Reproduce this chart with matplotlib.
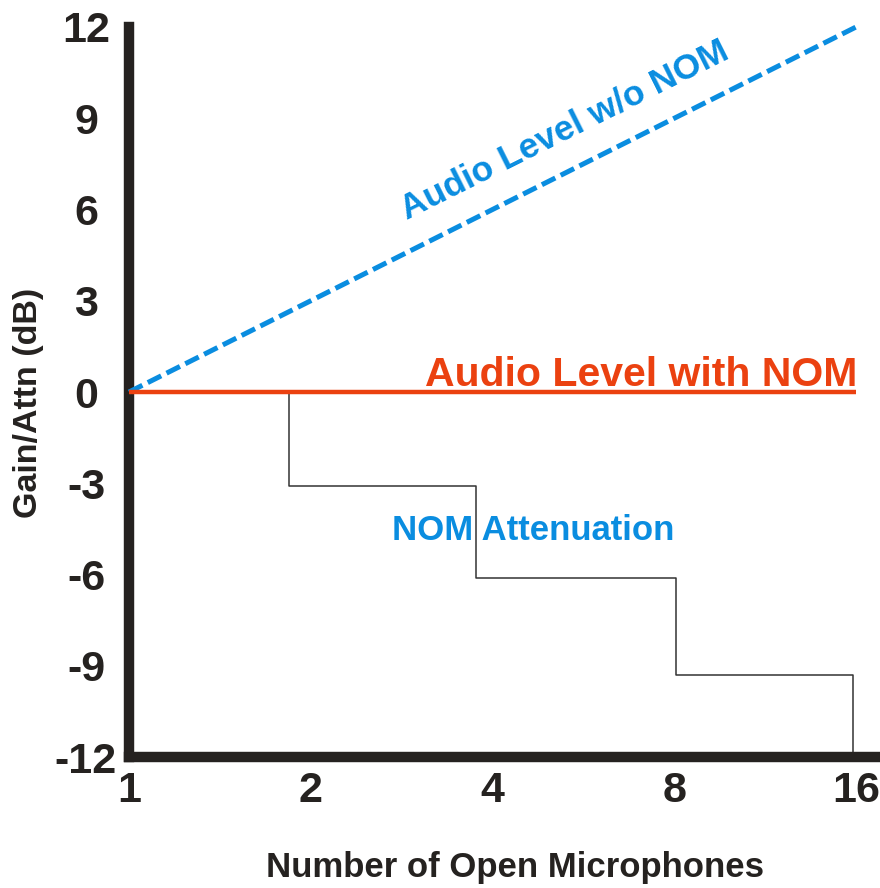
import matplotlib
matplotlib.use("Agg")
import matplotlib.pyplot as plt
from matplotlib.ticker import FixedLocator, FixedFormatter

plt.rcParams['font.family'] = ['Liberation Sans', 'DejaVu Sans']

# ---- data ----
mics = [1, 2, 4, 8, 16]
level_without_nom = [0, 3, 6, 9, 12]
level_with_nom = [0, 0, 0, 0, 0]
step_edges = [1.84, 3.75, 8.05, 15.8]
step_levels = [0, -3.1, -6.1, -9.3, -12]
x_ticks = [1, 2, 4, 8, 16]
x_ticklabels = ["1", "2", "4", "8", "16"]
y_ticks = [12, 9, 6, 3, 0, -3, -6, -9, -12]
y_ticklabels = ["12", "9", "6", "3", "0", "-3", "-6", "-9", "-12"]

BLUE = '#0a8de0'
ORANGE = '#eb4110'
DARK = '#252220'

fig = plt.figure(figsize=(8.8, 8.88), dpi=100)
ax = fig.add_axes([0.1466, 0.1475, 1.0 - 0.1466, 0.9696 - 0.1475])
ax.set_xscale('log', base=2)
ax.set_xlim(1, 17.53)
ax.set_ylim(-12, 12)

# step attenuation line
sx, sy = [], []
for i, e in enumerate(step_edges):
    sx += [e, e]
    sy += [step_levels[i], step_levels[i + 1]]
    if i + 1 < len(step_edges):
        sx.append(step_edges[i + 1])
        sy.append(step_levels[i + 1])
ax.plot(sx, sy, color='#333333', lw=1.1, zorder=2)

ax.plot(mics, level_with_nom, color=ORANGE, lw=3.2, solid_capstyle='butt',
        zorder=5, clip_on=False)
ax.plot(mics, level_without_nom, color=BLUE, lw=3.6,
        linestyle=(0, (3.0, 1.2)), zorder=4, clip_on=False)

ax.text(5.27, 8.6, "Audio Level w/o NOM", color=BLUE, fontsize=25.5,
        fontweight='bold', rotation=26.6, rotation_mode='anchor',
        ha='center', va='center')
ax.text(16.1, 0.2, "Audio Level with NOM", color=ORANGE, fontsize=29.5,
        fontweight='bold', ha='right', va='baseline')
ax.text(4.67, -4.54, "NOM Attenuation", color=BLUE, fontsize=25,
        fontweight='bold', ha='center', va='center')

for s in ['top', 'right']:
    ax.spines[s].set_visible(False)
for s in ['left', 'bottom']:
    ax.spines[s].set_linewidth(7.5)
    ax.spines[s].set_color(DARK)
    ax.spines[s].set_capstyle('projecting')

ax.xaxis.set_major_locator(FixedLocator(x_ticks))
ax.xaxis.set_major_formatter(FixedFormatter(x_ticklabels))
ax.xaxis.set_minor_locator(FixedLocator([]))
ax.yaxis.set_major_locator(FixedLocator(y_ticks))
ax.yaxis.set_major_formatter(FixedFormatter(y_ticklabels))
ax.tick_params(axis='both', length=0, labelsize=31, colors=DARK)
ax.tick_params(axis='x', pad=10)
ax.tick_params(axis='y', pad=31)
for lab in ax.get_xticklabels() + ax.get_yticklabels():
    lab.set_fontweight('bold')
for lab in ax.get_yticklabels():
    lab.set_horizontalalignment('center')

ax.set_xlabel("Number of Open Microphones", fontsize=25, fontweight='bold',
              color=DARK, va='center')
ax.xaxis.set_label_coords(0.514, -0.152)
ax.set_ylabel("Gain/Attn (dB)", fontsize=24.5, fontweight='bold',
              color=DARK, va='center')
ax.yaxis.set_label_coords(-0.134, 0.485)

fig.savefig("out.png", dpi=100)
